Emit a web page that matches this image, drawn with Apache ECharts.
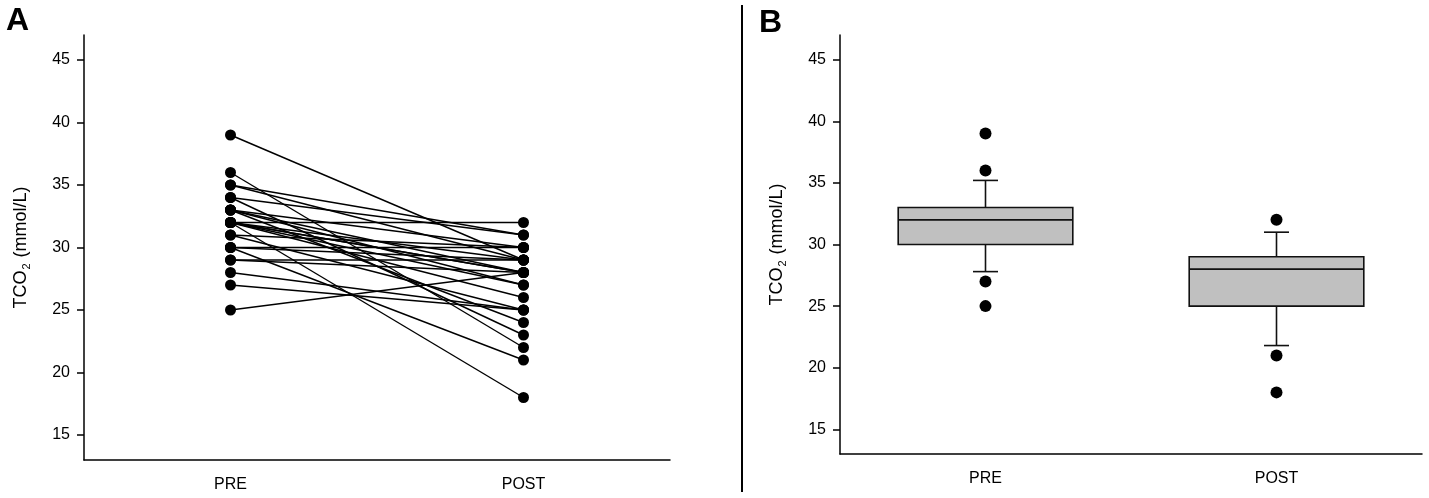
<!DOCTYPE html>
<html>
<head>
<meta charset="utf-8">
<script src="https://cdn.jsdelivr.net/npm/echarts@6/dist/echarts.min.js"></script>
<style>
  html, body { margin: 0; padding: 0; background: #fff; }
  #chart { width: 1429px; height: 498px; }
</style>
</head>
<body>
<div id="chart"></div>
<script>
// categories and tick labels
var groups = ['PRE', 'POST'];
var yTicks = [15, 20, 25, 30, 35, 40, 45];

// panel A: paired TCO2 values per subject (mmol/L)
var preValues  = [39, 36, 35, 35, 34, 34, 33, 33, 33, 33, 32, 32, 32, 32, 32, 32, 32, 31, 31, 30, 30, 30, 29, 29, 28, 27, 25];
var postValues = [29, 22, 31, 29, 31, 23, 30, 28, 27, 24, 32, 18, 29, 28, 28, 27, 26, 30, 25, 30, 21, 29, 28, 29, 25, 25, 28];

// panel B: box stats [10th pct, Q1, median, Q3, 90th pct]
var preBox  = [27.8, 30, 32, 33, 35.2];
var postBox = [21.8, 25, 28, 29, 31];
var preOutliers  = [39, 36, 27, 25];
var postOutliers = [32, 21, 18];

var ink = '#000';
var fontFamily = '"Liberation Sans", Arial, sans-serif';

function xAxisFor(idx) {
    return {
        type: 'category',
        gridIndex: idx,
        data: groups,
        boundaryGap: true,
        axisLine: { lineStyle: { color: ink, width: 1.5 } },
        axisTick: { alignWithLabel: true, length: 6, lineStyle: { color: ink, width: 1.5 } },
        axisLabel: { color: ink, fontSize: 16, fontFamily: fontFamily, margin: 17 },
        splitLine: { show: false }
    };
}

function yAxisFor(idx) {
    return {
        type: 'value',
        gridIndex: idx,
        min: 13,
        max: 47,
        name: '{a|TCO}{s|2}{a| (mmol/L)}',
        nameLocation: 'middle',
        nameGap: 52,
        nameRotate: 90,
        nameTextStyle: {
            rich: {
                a: { fontSize: 18, fontFamily: fontFamily, color: ink, lineHeight: 22 },
                s: { fontSize: 11, fontFamily: fontFamily, color: ink, lineHeight: 22, verticalAlign: 'bottom', padding: [0, 1, 0, 1] }
            }
        },
        axisLine: { show: true, lineStyle: { color: ink, width: 1.5 } },
        axisTick: { show: true, length: 7, customValues: yTicks, lineStyle: { color: ink, width: 1.5 } },
        axisLabel: { color: ink, fontSize: 16, fontFamily: fontFamily, margin: 14, customValues: yTicks },
        splitLine: { show: false }
    };
}

var series = [];
for (var i = 0; i < preValues.length; i++) {
    series.push({
        type: 'line',
        xAxisIndex: 0,
        yAxisIndex: 0,
        data: [preValues[i], postValues[i]],
        symbol: 'circle',
        symbolSize: 11,
        showSymbol: true,
        lineStyle: { color: ink, width: 1.4 },
        itemStyle: { color: ink, opacity: 1 },
        silent: true
    });
}

var boxData = [[0].concat(preBox), [1].concat(postBox)];
series.push({
    type: 'custom',
    xAxisIndex: 1,
    yAxisIndex: 1,
    data: boxData,
    encode: { x: 0, y: [1, 2, 3, 4, 5] },
    renderItem: function(params, api) {
        var x = api.value(0);
        var lo = api.coord([x, api.value(1)]);
        var q1 = api.coord([x, api.value(2)]);
        var med = api.coord([x, api.value(3)]);
        var q3 = api.coord([x, api.value(4)]);
        var hi = api.coord([x, api.value(5)]);
        var band = api.size([1, 0])[0];
        var bw = band * 0.6;
        var cw = band * 0.086;
        var cx = lo[0];
        var stroke = { stroke: '#111', lineWidth: 1.6 };
        return {
            type: 'group',
            children: [
                { type: 'line', shape: { x1: cx, y1: q1[1], x2: cx, y2: lo[1] }, style: stroke },
                { type: 'line', shape: { x1: cx, y1: q3[1], x2: cx, y2: hi[1] }, style: stroke },
                { type: 'line', shape: { x1: cx - cw / 2, y1: lo[1], x2: cx + cw / 2, y2: lo[1] }, style: stroke },
                { type: 'line', shape: { x1: cx - cw / 2, y1: hi[1], x2: cx + cw / 2, y2: hi[1] }, style: stroke },
                { type: 'rect', shape: { x: cx - bw / 2, y: q3[1], width: bw, height: q1[1] - q3[1] },
                  style: { fill: '#c0c0c0', stroke: '#111', lineWidth: 1.6 } },
                { type: 'line', shape: { x1: cx - bw / 2, y1: med[1], x2: cx + bw / 2, y2: med[1] }, style: stroke }
            ]
        };
    }
});

var outlierData = [];
preOutliers.forEach(function(v) { outlierData.push([0, v]); });
postOutliers.forEach(function(v) { outlierData.push([1, v]); });
series.push({
    type: 'scatter',
    xAxisIndex: 1,
    yAxisIndex: 1,
    data: outlierData,
    symbol: 'circle',
    symbolSize: 12,
    itemStyle: { color: ink, opacity: 1 }
});

var chart = echarts.init(document.getElementById('chart'));
chart.setOption({
    backgroundColor: '#fff',
    animation: false,
    grid: [
        { left: 84, top: 35, width: 586, height: 425 },
        { left: 840, top: 35, width: 582, height: 419 }
    ],
    xAxis: [xAxisFor(0), xAxisFor(1)],
    yAxis: [yAxisFor(0), yAxisFor(1)],
    series: series,
    graphic: [
        { type: 'text', left: 6, top: 5, style: { text: 'A', font: 'bold 32px ' + fontFamily, fill: ink } },
        { type: 'text', left: 759, top: 7, style: { text: 'B', font: 'bold 32px ' + fontFamily, fill: ink } },
        { type: 'line', shape: { x1: 742, y1: 5, x2: 742, y2: 492 }, style: { stroke: ink, lineWidth: 2 } }
    ]
});
</script>
</body>
</html>
